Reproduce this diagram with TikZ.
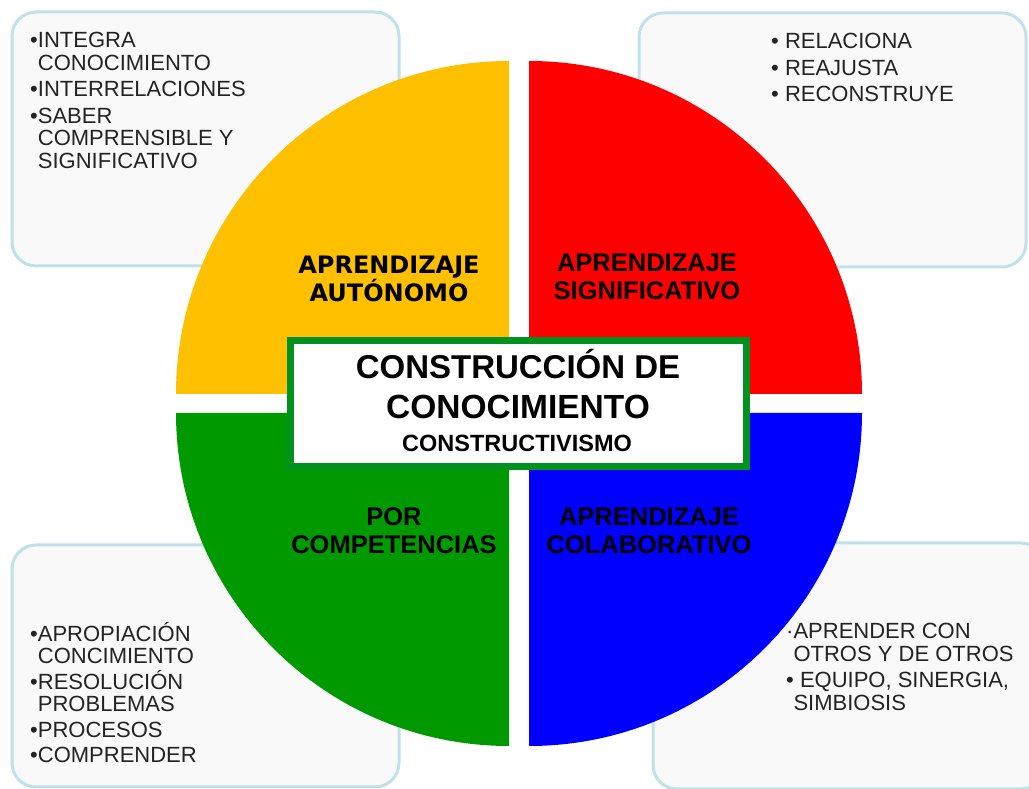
\documentclass[tikz,border=0pt]{standalone}
\usepackage{fontspec}
\setmainfont{Liberation Sans}
\newfontfamily\verdanafont{DejaVu Sans}
\usetikzlibrary{positioning}

\definecolor{quadYellow}{RGB}{255,192,0}
\definecolor{quadRed}{RGB}{255,0,0}
\definecolor{quadGreen}{RGB}{0,153,0}
\definecolor{quadBlue}{RGB}{0,0,255}
\definecolor{centreGreen}{RGB}{0,145,30}
\definecolor{boxBorder}{RGB}{191,225,232}
\definecolor{boxFill}{RGB}{249,249,250}
\definecolor{listGray}{RGB}{35,35,35}

\begin{document}
\begin{tikzpicture}[x=1pt,y=1pt,
    infobox/.style={draw=boxBorder, line width=3pt, rounded corners=24pt, fill=boxFill},
    listtext/.style={align=left, anchor=north west, inner sep=0pt, text=listGray,
      font=\fontsize{22}{22.5}\selectfont},
    quadlabel/.style={align=center, inner sep=0pt, font=\bfseries\fontsize{25.5}{28}\selectfont},
    titletext/.style={anchor=base, inner sep=0pt, font=\bfseries\fontsize{33.5}{36}\selectfont}]

      \useasboundingbox (0,0) rectangle (1029,789);

    %Boxes
      \draw [infobox] (12,523) rectangle (399,777);
      \draw [infobox] (639,522) rectangle (1026,776);
      \draw [infobox] (12,2) rectangle (399,244);
      \draw [infobox] (653,0) rectangle (1045,246);

    %Quadrants
      \fill [quadYellow] (509,395) -- (176,395) arc [start angle=180, end angle=90, radius=333] -- cycle;
      \fill [quadRed] (529,395) -- (529,728) arc [start angle=90, end angle=0, radius=333] -- cycle;
      \fill [quadGreen] (509,376) -- (509,43) arc [start angle=270, end angle=180, radius=333] -- cycle;
      \fill [quadBlue] (529,376) -- (862,376) arc [start angle=0, end angle=-90, radius=333] -- cycle;

      \node [quadlabel, font=\verdanafont\bfseries\fontsize{24}{28}\selectfont] (autonomo) at (389,510) {APRENDIZAJE\\AUTÓNOMO};
      \node [quadlabel] (significativo) at (647,512) {APRENDIZAJE\\SIGNIFICATIVO};
      \node [quadlabel] (competencias) at (394,258) {POR\\COMPETENCIAS};
      \node [quadlabel] (colaborativo) at (649,258) {APRENDIZAJE\\COLABORATIVO};

    %Centre box
      \node [draw=centreGreen, line width=7pt, fill=white, minimum width=456pt,
        minimum height=126pt, inner sep=0pt] (centre) at (518.5,385.5) {};
      \node [titletext, font=\bfseries\fontsize{33}{36}\selectfont] (construccion) at (518,410) {CONSTRUCCIÓN DE};
      \node [titletext] (conocimiento) at (518,370) {CONOCIMIENTO};
      \node [titletext, font=\bfseries\fontsize{23.5}{26}\selectfont] (constructivismo) at (517,337) {CONSTRUCTIVISMO};

    %Lists
      \node [listtext] (listaAutonomo) at (30,757)
        {•INTEGRA\\\phantom{•}CONOCIMIENTO\\[4pt]•INTERRELACIONES\\[4pt]•SABER\\\phantom{•}COMPRENSIBLE Y\\\phantom{•}SIGNIFICATIVO};
      \node [listtext, font=\fontsize{22}{26.5}\selectfont] (listaSignificativo) at (771,756)
        {• RELACIONA\\• REAJUSTA\\• RECONSTRUYE};
      \node [listtext] (listaCompetencias) at (30,167)
        {•APROPIACIÓN\\\phantom{•}CONCIMIENTO\\[3pt]•RESOLUCIÓN\\\phantom{•}PROBLEMAS\\[3pt]•PROCESOS\\[3pt]•COMPRENDER};
      \node [listtext] (listaColaborativo) at (786,166)
        {·APRENDER CON\\\phantom{·}OTROS Y DE OTROS\\[4pt]• EQUIPO, SINERGIA,\\\phantom{·}SIMBIOSIS};
\end{tikzpicture}
\end{document}
